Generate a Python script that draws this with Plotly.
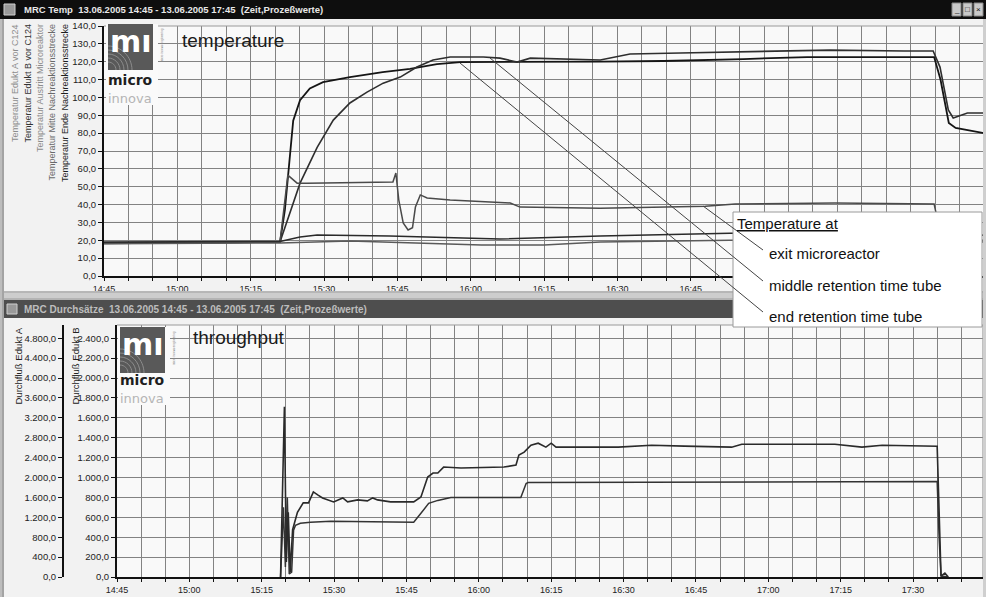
import plotly.graph_objects as go

W, H = 986, 597
def px(x): return x / W
def py(y): return 1 - y / H
DATE = "2005-06-13 "

# ---------------- data: temperatures (top window) ----------------
T1_time = ["14:45:00","15:21:00","15:22:00","15:22:36","15:23:12","15:23:42","15:25:06","15:27:06","15:29:48",
           "15:35:18","15:42:00","15:47:36","15:53:06","15:57:54","16:26:30","16:39:24","16:55:48","17:08:48",
           "17:34:48","17:36:06","17:37:48","17:39:12","17:45:00"]
T1_val = [18.5,19,37,55,76,87,98.5,105,108.6,111.4,114.2,116,118.7,119.8,120,120.4,121.5,122.6,122.6,110,85.7,82.9,80]

T2_time = ["14:45:00","15:21:00","15:25:06","15:28:36","15:31:54","15:35:18","15:38:48","15:42:06","15:45:36",
           "15:49:00","15:52:18","15:55:48","16:02:36","16:06:00","16:09:30","16:12:12","16:26:30","16:32:36",
           "16:42:54","16:55:12","17:13:30","17:28:42","17:34:36","17:36:00","17:37:42","17:38:42","17:41:36","17:45:00"]
T2_val = [18.5,19,52,72,87.3,96.9,103,108,111.4,117,121,122.6,122.6,122,119.8,122,121,124.3,124.9,125.4,126.5,
          126,126,117,93,88.5,91.3,91.3]

T3_time = ["14:45:00","15:21:00","15:22:36","15:24:30","15:26:30","15:44:06","15:44:42","15:45:18","15:46:12",
           "15:47:12","15:48:06","15:48:42","15:49:42","15:51:06","15:55:48","16:08:06","16:10:06","16:26:30",
           "16:48:00","16:54:06","17:14:30","17:34:48","17:36:00","17:38:00","17:45:00"]
T3_val = [18.2,19,56.5,52,52,52.6,57.7,42.5,29.7,25.8,27,38.6,45.4,43.7,42.5,40.9,38.6,38,39,40.3,40.9,40.3,25,20,19]

T4_time = ["14:45:00","15:21:00","15:25:06","15:28:36","15:43:24","15:55:48","16:06:00","16:26:30","16:53:00",
           "17:35:00","17:38:00","17:45:00"]
T4_val = [19,19.3,21.8,23,22.4,21.3,20.7,22.4,24,24.5,21,23]

T5_time = ["14:45:00","15:21:00","15:35:18","15:49:54","16:02:12","16:15:00","16:26:30","16:53:00","17:35:00","17:45:00"]
T5_val = [18,18.5,19.6,18.5,17.4,17.4,19.0,20,20.5,20]

TEMP_NAMES = ["Temperatur Edukt A vor C124","Temperatur Edukt B vor C124","Temperatur Austritt Microreaktor",
              "Temperatur Mitte Nachreaktionsstrecke","Temperatur Ende Nachreaktionsstrecke"]

# ---------------- data: throughput (bottom window) ----------------
A_time = ["15:18:54","15:19:18","15:19:42","15:20:06","15:20:30","15:20:54","15:21:24","15:22:24","15:23:36",
          "15:24:42","15:25:42","15:26:36","15:27:36","15:29:54","15:31:48","15:32:48","15:34:54","15:36:54",
          "15:38:00","15:39:00","15:41:42","15:46:30","15:48:00","15:49:24","15:50:30","15:51:30","15:52:42",
          "15:56:18","16:05:12","16:07:42","16:08:18","16:09:24","16:10:48","16:12:18","16:13:54","16:15:00",
          "16:16:00","16:28:54","16:35:48","16:42:36","16:52:24","16:54:30","17:13:48","17:19:24","17:23:36",
          "17:35:00","17:35:24","17:35:48","17:36:36","17:37:18"]
A_val = [0,1500,3420,300,1300,100,950,1300,1490,1490,1710,1650,1590,1510,1590,1510,1550,1530,1590,1550,1510,
         1510,1610,2010,2090,2090,2210,2190,2210,2250,2450,2510,2650,2690,2610,2690,2610,2610,2650,2630,2610,
         2670,2670,2610,2650,2630,1200,20,80,0]

B_time = ["15:18:54","15:19:30","15:19:54","15:20:18","15:20:42","15:21:12","15:21:36","15:22:00","15:23:00",
          "15:25:06","15:29:18","15:44:24","15:46:30","15:48:00","15:49:36","15:51:30","15:54:12","16:08:42",
          "16:09:48","16:10:12","17:35:00","17:35:24","17:35:48","17:37:18"]
B_val = [0,700,100,800,30,50,470,520,540,550,560,550,550,640,740,770,800,800,940,950,960,400,10,0]

# ---------------- tick labels ----------------
TOP_Y_TICKS = [0,10,20,30,40,50,60,70,80,90,100,110,120,130,140]
TOP_Y_LABELS = ["0,0","10,0","20,0","30,0","40,0","50,0","60,0","70,0","80,0","90,0","100,0","110,0","120,0","130,0","140,0"]
A_TICKS = [0,400,800,1200,1600,2000,2400,2800,3200,3600,4000,4400,4800]
A_LABELS = ["0,0","400,0","800,0","1.200,0","1.600,0","2.000,0","2.400,0","2.800,0","3.200,0","3.600,0","4.000,0","4.400,0","4.800,0"]
B_TICKS = [0,200,400,600,800,1000,1200,1400,1600,1800,2000,2200,2400]
B_LABELS = ["0,0","200,0","400,0","600,0","800,0","1.000,0","1.200,0","1.400,0","1.600,0","1.800,0","2.000,0","2.200,0","2.400,0"]
TOP_X_LABELS = ["14:45","15:00","15:15","15:30","15:45","16:00","16:15","16:30","16:45"]   # later ones hidden by the callout
BOT_X_LABELS = ["14:45","15:00","15:15","15:30","15:45","16:00","16:15","16:30","16:45","17:00","17:15","17:30"]

# 5-minute grid ticks (labels only every 15 min)
x_tickvals, top_ticktext, bot_ticktext = [], [], []
for h in (14, 15, 16, 17):
    for m in range(0, 60, 5):
        if (h == 14 and m < 45) or (h == 17 and m > 45):
            continue
        lab = f"{h:02d}:{m:02d}"
        x_tickvals.append(DATE + lab)
        top_ticktext.append(lab if lab in TOP_X_LABELS else "")
        bot_ticktext.append(lab if lab in BOT_X_LABELS else "")

GRID = "#838383"
TXT = "#222"
FONT = "Liberation Sans"

fig = go.Figure()
def d(ts): return [DATE + t for t in ts]

line_styles = [("#151515", 1.8), ("#2e2e2e", 1.6), ("#4a4a4a", 1.5), ("#2a2a2a", 1.5), ("#5a5a5a", 1.4)]
for (tt, vv), name, (c, w) in zip([(T1_time, T1_val), (T2_time, T2_val), (T3_time, T3_val), (T4_time, T4_val), (T5_time, T5_val)],
                                  TEMP_NAMES, line_styles):
    fig.add_trace(go.Scatter(x=d(tt), y=vv, mode="lines", name=name, line=dict(color=c, width=w),
                             xaxis="x", yaxis="y", showlegend=False))

fig.add_trace(go.Scatter(x=d(A_time), y=A_val, mode="lines", name="Durchfluß Edukt A",
                         line=dict(color="#2a2a2a", width=1.6), xaxis="x2", yaxis="y3", showlegend=False))
fig.add_trace(go.Scatter(x=d(B_time), y=B_val, mode="lines", name="Durchfluß Edukt B",
                         line=dict(color="#333333", width=1.5), xaxis="x2", yaxis="y2", showlegend=False))

xcommon = dict(type="date", tickvals=x_tickvals, showgrid=True, gridcolor=GRID, gridwidth=1.4,
               showline=True, linecolor="#111", linewidth=2, ticks="outside", ticklen=3, tickcolor="#111",
               tickfont=dict(family=FONT, size=9, color=TXT), zeroline=False, fixedrange=True, automargin=False)
ycommon = dict(showgrid=True, gridcolor=GRID, gridwidth=1.4, showline=True, linecolor="#111", linewidth=2,
               ticks="outside", ticklen=4, tickcolor="#111", tickfont=dict(family=FONT, size=9.5, color=TXT),
               zeroline=False, fixedrange=True, automargin=False)

fig.update_layout(
    template="none", autosize=False,
    width=W, height=H, margin=dict(l=0, r=0, t=0, b=0, pad=0),
    paper_bgcolor="#f2f2f2", plot_bgcolor="#f9f9f9",
    xaxis=dict(xcommon, domain=[px(104), px(984)], anchor="y", ticktext=top_ticktext,
               range=[DATE + "14:45:00", DATE + "17:45:00"]),
    yaxis=dict(ycommon, domain=[py(276), py(26)], anchor="x", range=[0, 140],
               tickvals=TOP_Y_TICKS, ticktext=TOP_Y_LABELS),
    xaxis2=dict(xcommon, domain=[px(117), px(983)], anchor="y2", ticktext=bot_ticktext,
                range=[DATE + "14:45:00", DATE + "17:44:30"]),
    yaxis2=dict(ycommon, domain=[py(577), py(325)], anchor="x2", range=[0, 2533],
                tickvals=B_TICKS, ticktext=B_LABELS),
    yaxis3=dict(ycommon, overlaying="y2", anchor="free", position=px(63), side="left", range=[0, 5066],
                tickvals=A_TICKS, ticktext=A_LABELS, showgrid=False),
)

shapes = []
ann = []
def rect(x0, y0, x1, y1, fill, line=None, lw=0, layer="above"):
    shapes.append(dict(type="rect", xref="paper", yref="paper", x0=px(x0), x1=px(x1), y0=py(y1), y1=py(y0),
                       fillcolor=fill, line=dict(color=line or fill, width=lw), layer=layer))
def seg(x0, y0, x1, y1, color, w=1):
    shapes.append(dict(type="line", xref="paper", yref="paper", x0=px(x0), y0=py(y0), x1=px(x1), y1=py(y1),
                       line=dict(color=color, width=w), layer="above"))
def text(x, y, s, size=9, color=TXT, xa="left", ya="middle", angle=0, family=FONT, **kw):
    ann.append(dict(xref="paper", yref="paper", x=px(x), y=py(y), text=s, showarrow=False, xanchor=xa, yanchor=ya,
                    textangle=angle, font=dict(family=family, size=size, color=color), **kw))

# plot frames (right/top light border)
seg(104, 26, 984, 26, "#9a9a9a", 1.2); seg(984, 26, 984, 276, "#9a9a9a", 1.2)
seg(117, 325, 983, 325, "#9a9a9a", 1.2); seg(983, 325, 983, 577, "#9a9a9a", 1.2)

# window chrome
rect(0, 0, 4, 597, "#bdbdbd"); seg(3, 19, 3, 597, "#8a8a8a", 1)
rect(983, 19, 986, 597, "#cfcfcf")
rect(0, 0, 986, 19, "#0e0e0e")
rect(4, 4, 15, 15, "#9a9a9a", "#d0d0d0", 1)
text(22, 9.5, "<b>MRC Temp  13.06.2005 14:45 - 13.06.2005 17:45  (Zeit,Prozeßwerte)</b>", size=9.5, color="#e8e8e8")
for i, sym in enumerate(["_", "□", "×"]):
    rect(952 + i * 11, 3, 961 + i * 11, 16, "#c9c9c9", "#8a8a8a", 1)
    text(956.5 + i * 11, 9.5, sym, size=8, color="#111", xa="center")
rect(4, 291, 983, 300, "#cdcdcd"); seg(4, 292, 983, 292, "#a0a0a0", 1); seg(4, 299, 983, 299, "#9a9a9a", 1)
rect(4, 300, 983, 318, "#4e4e4e")
rect(7, 304, 17, 314, "#9a9a9a", "#cfcfcf", 1)
text(22, 309, "<b>MRC Durchsätze  13.06.2005 14:45 - 13.06.2005 17:45  (Zeit,Prozeßwerte)</b>", size=10, color="#bdbdbd")

# logos
def logo(x0, y0, yt_micro, yt_innova):
    rect(x0 - 2, y0, x0 + 50, yt_innova + 7, "#fafafa")
    rect(x0, y0, x0 + 45, y0 + 46, "#595959")
    cx, cy = x0, y0 + 46
    for r in (8, 12, 16, 20, 24):
        k = 0.5523 * r
        path = (f"M {px(cx)},{py(cy - r)} C {px(cx + k)},{py(cy - r)} {px(cx + r)},{py(cy - k)} {px(cx + r)},{py(cy)}")
        shapes.append(dict(type="path", xref="paper", yref="paper", path=path,
                           line=dict(color="#8c8c8c", width=1), layer="above"))
    text(x0 + 22.5, y0 + 17, "<b>mı</b>", size=30, color="white", xa="center", family="DejaVu Sans")
    text(x0 + 22, yt_micro, "<b>micro</b>", size=14, color="#1e1e1e", xa="center", family="DejaVu Sans")
    text(x0 + 22, yt_innova, "innova", size=13, color="#b5b5b5", xa="center", family="DejaVu Sans")
    text(x0 + 54, y0 + 2, "micro innova engineering", size=3, color="#888", xa="center", ya="top", angle=-90)

logo(108, 24, 80, 98)
logo(120, 327, 380, 398)
text(180, 40, "temperature", size=19, color="#1a1a1a", family="Liberation Sans")
text(191, 337, "throughput", size=19, color="#1a1a1a", family="Liberation Sans")

# axis titles (rotated)
col_x = [15, 28, 40, 52, 65]
col_c = ["#8c8c8c", "#333333", "#8c8c8c", "#6a6a6a", "#1e1e1e"]
for x, c, s in zip(col_x, col_c, TEMP_NAMES):
    text(x, 22, s, size=9, color=c, xa="center", ya="top", angle=-90)
text(18, 326, "Durchfluß Edukt A", size=9.5, color="#222", xa="center", ya="top", angle=-90)
text(75, 326, "Durchfluß Edukt B", size=9.5, color="#222", xa="center", ya="top", angle=-90)

# callout box
rect(733, 212, 982, 327, "#ffffff", "#9a9a9a", 1)
seg(703, 206, 763, 250, "#444", 1)
seg(490, 58, 763, 281, "#444", 1)
seg(460, 63, 763, 312, "#444", 1)
text(735, 224, "<u>Temperature at</u>", size=15, color="#111")
text(767, 254, "exit microreactor", size=15, color="#111")
text(767, 285, "middle retention time tube", size=15, color="#111")
text(767, 316, "end retention time tube", size=15, color="#111")

fig.update_layout(shapes=shapes, annotations=ann)
fig.write_html("out.html", config={"displayModeBar": False},
               post_script="document.body.style.margin='0';document.body.style.padding='0';"
                           "document.documentElement.style.overflow='hidden';")
